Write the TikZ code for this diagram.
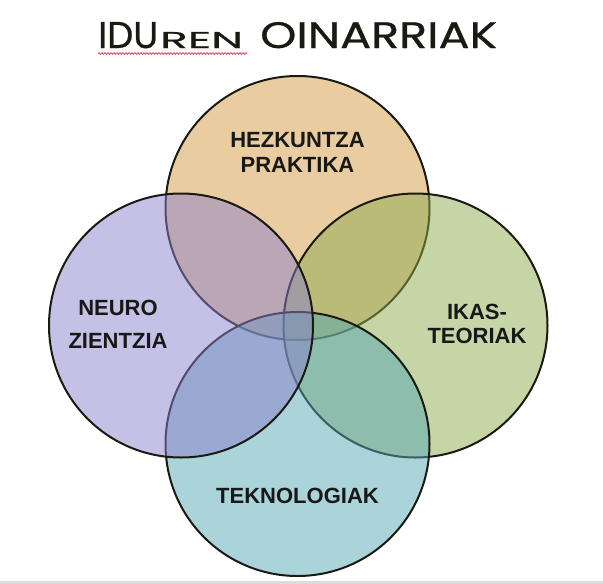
\documentclass[tikz,border=0pt]{standalone}
\usepackage{fontspec}
\usepackage{graphicx}
\setmainfont{Liberation Sans}
\newfontfamily\titlefont[FakeBold=0.6]{Poppins}
\usetikzlibrary{decorations.pathmorphing}
\definecolor{cTop}{RGB}{211,155,65}
\definecolor{cRight}{RGB}{141,171,77}
\definecolor{cBottom}{RGB}{85,167,181}
\definecolor{cLeft}{RGB}{139,129,203}
\definecolor{ink}{RGB}{26,26,18}
\definecolor{txt}{RGB}{24,24,24}
\definecolor{strip}{RGB}{220,220,220}
\definecolor{squig}{RGB}{235,50,80}
\tikzset{
  venn/.style={circle, draw=ink, line width=2pt, fill opacity=0.5, minimum size=264pt, inner sep=0pt},
  lbl/.style={text=txt, font=\fontsize{22}{25}\selectfont\bfseries, align=center, inner sep=0pt},
  ttl/.style={text=ink, inner sep=0pt, anchor=base west, font=\titlefont\fontsize{34}{36}\selectfont}
}
\begin{document}
\begin{tikzpicture}[x=1pt,y=-1pt]
\useasboundingbox (0,0) rectangle (603,584);
\fill[strip] (0,581) rectangle (603,584);
% circles in stacking order
\node[venn, fill=cTop]    (top)    at (297.5,208) {};
\node[venn, fill=cRight]  (right)  at (415.5,325.5) {};
\node[venn, fill=cBottom] (bottom) at (297.5,444) {};
\node[venn, fill=cLeft]   (left)   at (181,325.5) {};
% labels
\node[lbl] (ltop) at (297.5,152) {HEZKUNTZA\\PRAKTIKA};
\node[lbl, font=\fontsize{22}{33}\selectfont\bfseries] (lleft) at (118,324.5) {NEURO\\ZIENTZIA};
\node[lbl, font=\fontsize{22}{24.5}\selectfont\bfseries] (lright) at (477,324) {IKAS-\\TEORIAK};
\node[lbl] (lbottom) at (297.5,496) {TEKNOLOGIAK};
% title
\node[ttl] (t1) at (98,48) {\resizebox{60pt}{26pt}{IDU}};
\node[ttl] (t1b) at (160,48) {\resizebox{83pt}{16pt}{REN}};
\node[ttl] (t2) at (260,48) {\resizebox{237pt}{26pt}{OINARRIAK}};
\coordinate (sq1) at (98,53.5);
\coordinate (sq2) at (247,53.5);
\draw[squig, line width=0.7pt, decorate, decoration={snake, amplitude=0.9pt, segment length=3pt}] (sq1) -- (sq2);
\end{tikzpicture}
\end{document}
